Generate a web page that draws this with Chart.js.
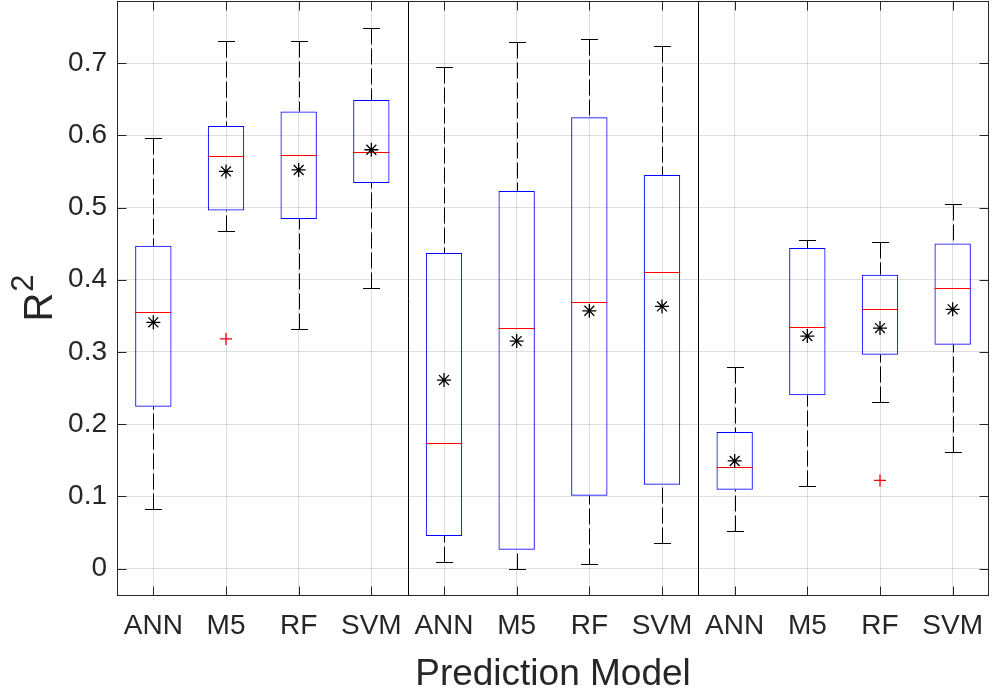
<!DOCTYPE html>
<html>
<head>
<meta charset="utf-8">
<title>R2 by prediction model</title>
<script src="https://cdn.jsdelivr.net/npm/chart.js@4.4.0/dist/chart.umd.min.js"></script>
<style>
    body { margin: 0; background: #fff; }
    #wrap { width: 992px; height: 696px; }
</style>
</head>
<body>
<div id="wrap"><canvas id="boxChart" width="992" height="696"></canvas></div>
<script>
// categories (three groups of four models)
const models = ['ANN', 'M5', 'RF', 'SVM', 'ANN', 'M5', 'RF', 'SVM', 'ANN', 'M5', 'RF', 'SVM'];
const groupSize = 4;

// box statistics
const whiskerHigh = [0.596, 0.730, 0.730, 0.748, 0.695, 0.729, 0.733, 0.724, 0.279, 0.455, 0.452, 0.505];
const q3          = [0.447, 0.613, 0.633, 0.649, 0.437, 0.523, 0.625, 0.545, 0.189, 0.444, 0.407, 0.450];
const medians     = [0.355, 0.572, 0.573, 0.577, 0.174, 0.333, 0.369, 0.411, 0.141, 0.335, 0.359, 0.389];
const q1          = [0.224, 0.496, 0.484, 0.534, 0.045, 0.026, 0.101, 0.116, 0.109, 0.240, 0.296, 0.310];
const whiskerLow  = [0.082, 0.467, 0.332, 0.389, 0.009, 0.000, 0.007, 0.035, 0.052, 0.115, 0.230, 0.161];
const means       = [0.341, 0.550, 0.552, 0.580, 0.261, 0.315, 0.357, 0.363, 0.149, 0.322, 0.333, 0.359];
const outliers    = [null, 0.318, null, null, null, null, null, null, null, null, 0.122, null];

// y axis range and ticks
const yMin = -0.038;
const yMax = 0.786;
const yStep = 0.1;

const FONT = '"Liberation Sans", Arial, Helvetica, sans-serif';
const TEXT = '#262626';
const GRID = 'rgba(38,38,38,0.15)';

function strokeLine(ctx, x1, y1, x2, y2) {
    ctx.beginPath();
    ctx.moveTo(x1, y1);
    ctx.lineTo(x2, y2);
    ctx.stroke();
}

// whiskers, medians, separators, frame and titles in MATLAB boxplot style
const boxplotExtras = {
    id: 'boxplotExtras',
    beforeDatasetsDraw(chart) {
        const ctx = chart.ctx;
        const y = chart.scales.y;
        const x = chart.scales.x;
        const area = chart.chartArea;
        const boxes = chart.getDatasetMeta(0).data;

        ctx.save();
        ctx.strokeStyle = '#000';
        ctx.lineWidth = 1;

        // group separators
        for (let g = groupSize; g < models.length; g += groupSize) {
            const sx = Math.round((x.getPixelForValue(g - 1) + x.getPixelForValue(g)) / 2) + 0.5;
            strokeLine(ctx, sx, area.top, sx, area.bottom);
        }

        boxes.forEach((bar, i) => {
            const cx = Math.round(bar.x) + 0.5;
            const capHalf = bar.width * 0.235;
            const top = Math.round(y.getPixelForValue(whiskerHigh[i])) + 0.5;
            const bottom = Math.round(y.getPixelForValue(whiskerLow[i])) + 0.5;

            // dashed whiskers
            ctx.setLineDash([16, 4]);
            strokeLine(ctx, cx, top, cx, y.getPixelForValue(q3[i]));
            strokeLine(ctx, cx, bottom, cx, y.getPixelForValue(q1[i]));
            ctx.setLineDash([]);

            // caps
            strokeLine(ctx, cx - capHalf, top, cx + capHalf, top);
            strokeLine(ctx, cx - capHalf, bottom, cx + capHalf, bottom);
        });
        ctx.restore();
    },
    afterDatasetDraw(chart, args) {
        if (args.index !== 0) return;
        const ctx = chart.ctx;
        const y = chart.scales.y;
        ctx.save();
        ctx.strokeStyle = '#ff0000';
        ctx.lineWidth = 1;
        args.meta.data.forEach((bar, i) => {
            const my = Math.round(y.getPixelForValue(medians[i])) + 0.5;
            strokeLine(ctx, bar.x - bar.width / 2, my, bar.x + bar.width / 2, my);
        });
        ctx.restore();
    },
    afterDraw(chart) {
        const ctx = chart.ctx;
        const area = chart.chartArea;
        const x = chart.scales.x;
        const y = chart.scales.y;
        const left = Math.round(area.left) + 0.5;
        const right = Math.round(area.right) - 0.5;
        const top = Math.round(area.top) + 0.5;
        const bottom = Math.round(area.bottom) - 0.5;
        const tick = 9;

        ctx.save();
        ctx.strokeStyle = TEXT;
        ctx.lineWidth = 1;
        ctx.strokeRect(left, top, right - left, bottom - top);

        // inward tick marks on all four sides
        y.ticks.forEach(t => {
            const ty = Math.round(y.getPixelForValue(t.value)) + 0.5;
            strokeLine(ctx, left, ty, left + tick, ty);
            strokeLine(ctx, right, ty, right - tick, ty);
        });
        models.forEach((m, i) => {
            const tx = Math.round(x.getPixelForValue(i)) + 0.5;
            strokeLine(ctx, tx, bottom, tx, bottom - tick);
            strokeLine(ctx, tx, top, tx, top + tick);
        });

        // x axis title
        ctx.fillStyle = TEXT;
        ctx.font = '37px ' + FONT;
        ctx.textAlign = 'center';
        ctx.textBaseline = 'alphabetic';
        ctx.fillText('Prediction Model', (area.left + area.right) / 2, 685);

        // y axis title R^2, rotated
        ctx.translate(52, (area.top + area.bottom) / 2);
        ctx.rotate(-Math.PI / 2);
        ctx.textAlign = 'left';
        ctx.font = '40px ' + FONT;
        const rWidth = ctx.measureText('R').width;
        ctx.font = '31px ' + FONT;
        const supWidth = ctx.measureText('2').width;
        const start = -(rWidth + supWidth) / 2;
        ctx.font = '40px ' + FONT;
        ctx.fillText('R', start, 0);
        ctx.font = '31px ' + FONT;
        ctx.fillText('2', start + rWidth + 1, -19);
        ctx.restore();
    }
};

const ctx = document.getElementById('boxChart').getContext('2d');
new Chart(ctx, {
    type: 'bar',
    data: {
        labels: models,
        datasets: [
            {
                label: 'IQR',
                data: q1.map((v, i) => [v, q3[i]]),
                backgroundColor: 'rgba(0,0,0,0)',
                borderColor: '#0000ff',
                borderWidth: 1,
                borderSkipped: false,
                barPercentage: 0.5,
                categoryPercentage: 1,
                grouped: false,
                order: 3
            },
            {
                label: 'Outliers',
                type: 'line',
                data: outliers,
                showLine: false,
                pointStyle: 'cross',
                pointRadius: 6,
                pointBorderColor: '#ff0000',
                pointBorderWidth: 1.3,
                order: 2
            },
            {
                label: 'Mean',
                type: 'line',
                data: means,
                showLine: false,
                pointStyle: 'star',
                pointRadius: 7,
                pointBorderColor: '#000',
                pointBorderWidth: 1.3,
                order: 1
            }
        ]
    },
    options: {
        responsive: false,
        animation: false,
        layout: { autoPadding: false, padding: { top: 1, right: 3, left: 0, bottom: 0 } },
        plugins: {
            legend: { display: false },
            tooltip: { enabled: false }
        },
        scales: {
            x: {
                offset: true,
                afterFit: function(scale) {
                    scale.height = 100;
                    scale.paddingLeft = 0;
                    scale.paddingRight = 0;
                },
                grid: { offset: false, color: GRID, drawTicks: false },
                border: { display: false },
                ticks: {
                    autoSkip: false,
                    maxRotation: 0,
                    padding: 13,
                    color: TEXT,
                    font: { family: FONT, size: 28 }
                }
            },
            y: {
                min: yMin,
                max: yMax,
                afterFit: function(scale) {
                    scale.width = 117;
                    scale.paddingTop = 0;
                    scale.paddingBottom = 0;
                },
                grid: { color: GRID, drawTicks: false },
                border: { display: false },
                ticks: {
                    stepSize: yStep,
                    includeBounds: false,
                    padding: 10,
                    color: TEXT,
                    font: { family: FONT, size: 28 }
                }
            }
        }
    },
    plugins: [boxplotExtras]
});
</script>
</body>
</html>
